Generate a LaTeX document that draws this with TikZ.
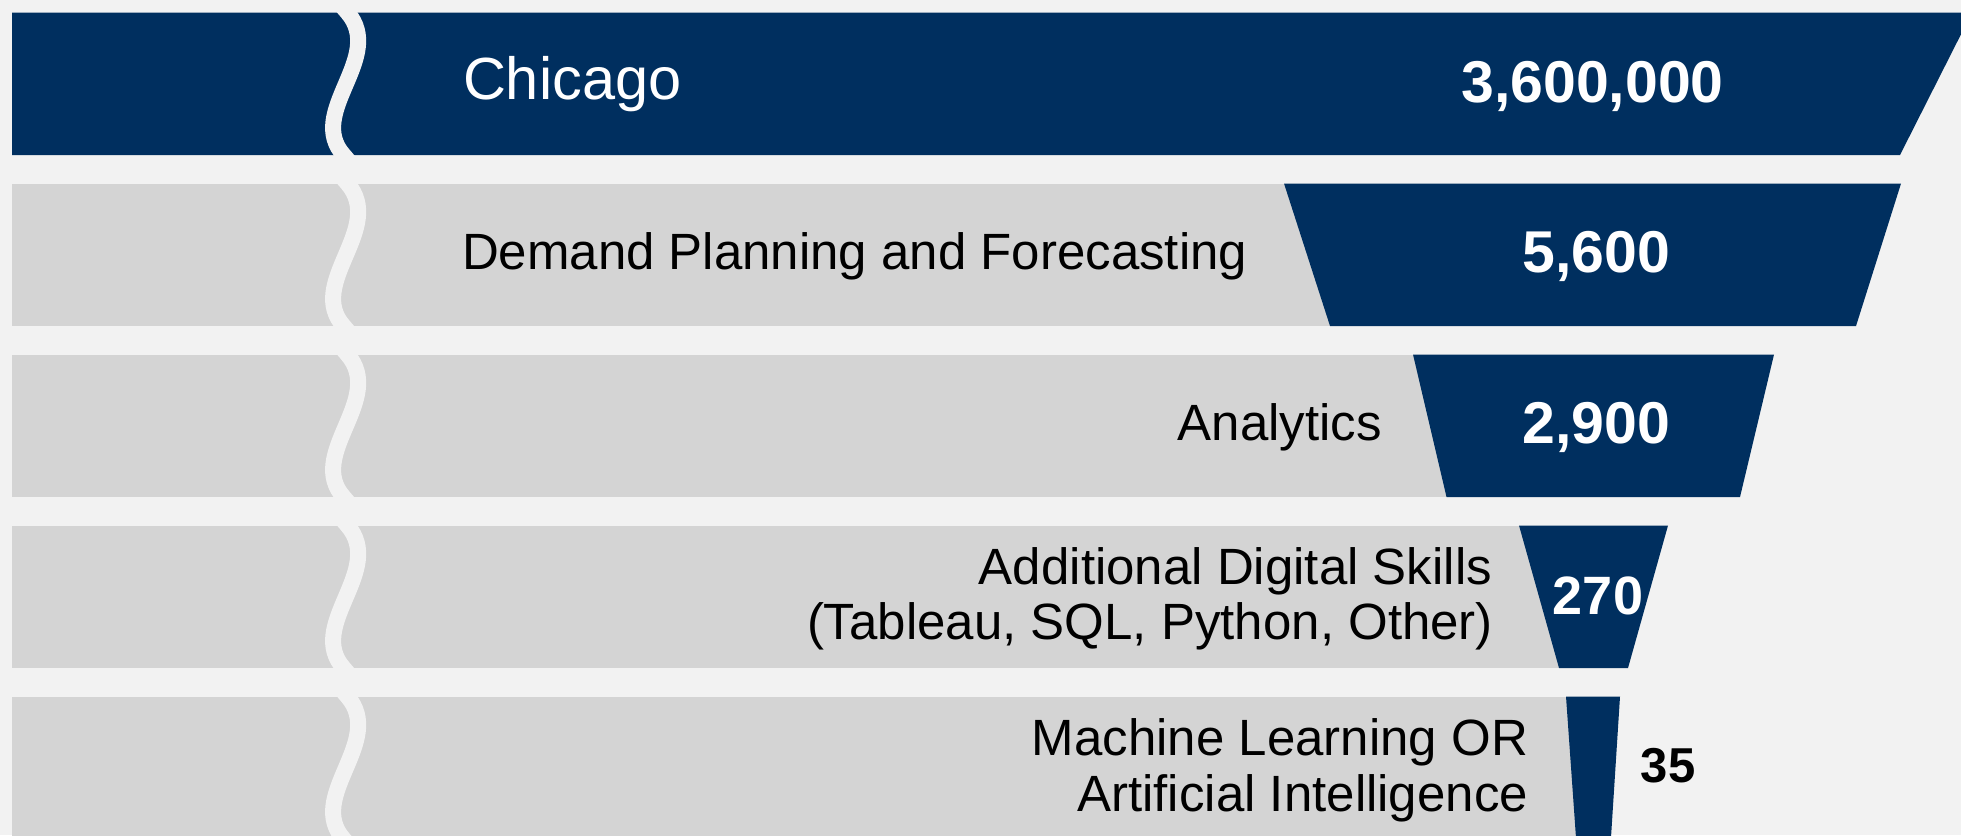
\documentclass[tikz,border=0pt]{standalone}
\usepackage{fontspec}
\setmainfont{Liberation Sans}
\definecolor{navy}{RGB}{0,47,95}
\definecolor{barg}{RGB}{212,212,212}
\definecolor{bgc}{RGB}{242,242,242}
\begin{document}
\begin{tikzpicture}[x=1pt,y=-1pt,
  lbl/.style={inner sep=0pt, outer sep=0pt, font=\fontsize{51}{55}\selectfont, text=black},
  num/.style={inner sep=0pt, outer sep=0pt, font=\bfseries\fontsize{59}{60}\selectfont, text=white, anchor=base},
  wave/.style={draw=bgc, line width=16pt}]
\fill[bgc] (0,0) rectangle (1961,835);
\useasboundingbox (0,0) rectangle (1961,835);
\clip (0,0) rectangle (1961,835);
% bar 1
\fill[navy] (12,12.5) -- (1972,12.5) -- (1900,155) -- (12,155) -- cycle;
% bar 2
\fill[barg] (12,183.5) rectangle (1336,326);
\fill[navy] (1284,183.5) -- (1901,183.5) -- (1856,326) -- (1330,326) -- cycle;
% bar 3
\fill[barg] (12,354.5) rectangle (1452,497);
\fill[navy] (1413,354.5) -- (1774,354.5) -- (1740,497) -- (1446.5,497) -- cycle;
% bar 4
\fill[barg] (12,525.5) rectangle (1565,668);
\fill[navy] (1519,525.5) -- (1668,525.5) -- (1628,668) -- (1559,668) -- cycle;
% bar 5
\fill[barg] (12,696.5) rectangle (1582,845);
\fill[navy] (1566,696.5) -- (1620,696.5) -- (1610.5,845) -- (1576.5,845) -- cycle;
% break waves
\foreach \t in {12.5,183.5,354.5,525.5,696.5}{
  \draw[wave] (341,\t-7.6) -- (347.5,\t) .. controls (386,\t+45) and (305,\t+100) .. (344,\t+143) -- (350.5,\t+150.6);
}
% labels
\node[lbl, text=white, font=\fontsize{59.5}{60}\selectfont, anchor=base west] (chi) at (463,99) {Chicago};
\node[lbl, anchor=base west] (dpf) at (462,269) {Demand Planning and Forecasting};
\node[lbl, anchor=base east] (ana) at (1382,440) {Analytics};
\node[lbl, anchor=base east] (ads1) at (1492,584) {Additional Digital Skills};
\node[lbl, anchor=base east] (ads2) at (1493,639) {(Tableau, SQL, Python, Other)};
\node[lbl, anchor=base east] (ml1) at (1528,755) {Machine Learning OR};
\node[lbl, anchor=base east] (ml2) at (1528,811) {Artificial Intelligence};
% numbers
\node[num] (n1) at (1592.5,102) {3,600,000};
\node[num] (n2) at (1596,272) {5,600};
\node[num] (n3) at (1596,443) {2,900};
\node[num, font=\bfseries\fontsize{54}{55}\selectfont] (n4) at (1598,614) {270};
\node[num, text=black, font=\bfseries\fontsize{49}{50}\selectfont] (n5) at (1668,782) {35};
\end{tikzpicture}
\end{document}
